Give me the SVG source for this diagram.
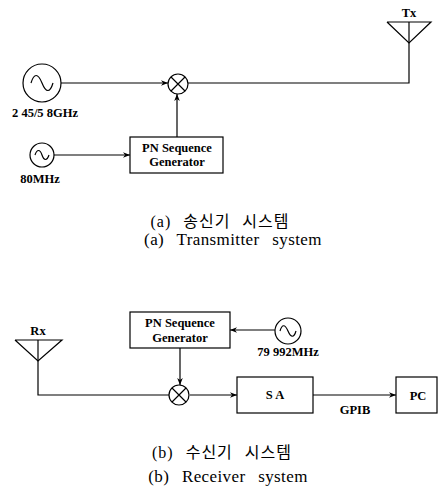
<svg xmlns="http://www.w3.org/2000/svg" width="438" height="491" viewBox="0 0 438 491">
<style>
.ln{fill:none;stroke:#000;stroke-width:1.2}
.bx{fill:#fff;stroke:#000;stroke-width:1.2}
.lb{font-family:"Liberation Serif",serif;font-weight:bold;font-size:12.5px;fill:#000}
.cap{font-family:"Liberation Serif","Noto Sans CJK KR",serif;font-size:17px;fill:#000;letter-spacing:0.4px;word-spacing:8px}
.ko{font-family:"Liberation Serif","Noto Sans CJK KR",serif;font-size:16px;fill:#000;letter-spacing:1px;word-spacing:7px}
</style>
<defs>
<marker id="ar" viewBox="0 0 10 10" refX="10" refY="5" markerWidth="7" markerHeight="7" orient="auto" markerUnits="userSpaceOnUse">
<path d="M0,1 L10,5 L0,9 L3,5 Z" fill="#000"/>
</marker>
</defs>
<rect width="438" height="491" fill="#fff"/>
<g id="connectors">
<line class="ln" x1="61" y1="83" x2="168" y2="83" marker-end="url(#ar)"/>
<polyline class="ln" points="188,83 409,83 409,22"/>
<line class="ln" x1="177" y1="137" x2="177" y2="94" marker-end="url(#ar)"/>
<line class="ln" x1="54" y1="155" x2="130" y2="155" marker-end="url(#ar)"/>
<polyline class="ln" points="38,340 38,395 169,395"/>
<line class="ln" x1="180" y1="348" x2="180" y2="385" marker-end="url(#ar)"/>
<line class="ln" x1="275" y1="330" x2="230" y2="330" marker-end="url(#ar)"/>
<line class="ln" x1="190" y1="395" x2="237" y2="395" marker-end="url(#ar)"/>
<line class="ln" x1="313" y1="395" x2="396" y2="395" marker-end="url(#ar)"/>
<text class="lb" x="355" y="414" text-anchor="middle">GPIB</text>
</g>
<g id="src1">
<circle class="bx" cx="42" cy="83" r="19"/>
<path class="ln" d="M31,83 C34,73 38,73 42,83 C46,93 50,93 53,83"/>
<text class="lb" x="45" y="117" text-anchor="middle">2 45/5 8GHz</text>
</g>
<g id="mixer1">
<circle class="bx" cx="178" cy="84" r="10"/>
<path class="ln" d="M171,77 L185,91 M185,77 L171,91"/>
</g>
<g id="tx">
<polyline class="ln" points="387,22 431,22 409,43 387,22"/>
<text class="lb" x="409" y="17" text-anchor="middle" font-size="13">Tx</text>
</g>
<g id="src2">
<circle class="bx" cx="42" cy="155" r="12"/>
<path class="ln" d="M35,155 C37,149 40,149 42,155 C44,161 47,161 49,155"/>
<text class="lb" x="40" y="183" text-anchor="middle">80MHz</text>
</g>
<g id="pn1">
<rect class="bx" x="130" y="137" width="93" height="36"/>
<text class="lb" x="177" y="152" text-anchor="middle">PN Sequence</text>
<text class="lb" x="177" y="166" text-anchor="middle">Generator</text>
</g>
<g id="capA">
<text class="ko" x="220" y="227" text-anchor="middle">(a) 송신기 시스템</text>
<text class="cap" x="233" y="245" text-anchor="middle">(a) Transmitter system</text>
</g>
<g id="rx">
<polyline class="ln" points="15,340 62,340 38,361 15,340"/>
<text class="lb" x="38" y="335" text-anchor="middle" font-size="13">Rx</text>
</g>
<g id="pn2">
<rect class="bx" x="130" y="312" width="100" height="36"/>
<text class="lb" x="180" y="327" text-anchor="middle">PN Sequence</text>
<text class="lb" x="180" y="342" text-anchor="middle">Generator</text>
</g>
<g id="src3">
<circle class="bx" cx="288" cy="331" r="13"/>
<path class="ln" d="M280,331 C282,324 285,324 288,331 C291,338 294,338 296,331"/>
<text class="lb" x="288" y="356" text-anchor="middle">79 992MHz</text>
</g>
<g id="mixer2">
<circle class="bx" cx="179" cy="395" r="10"/>
<path class="ln" d="M172,388 L186,402 M186,388 L172,402"/>
</g>
<g id="sa">
<rect class="bx" x="237" y="377" width="76" height="36"/>
<text class="lb" x="275" y="399" text-anchor="middle">S A</text>
</g>
<g id="pc">
<rect class="bx" x="396" y="377" width="41" height="36"/>
<text class="lb" x="418" y="400" text-anchor="middle" font-size="14">PC</text>
</g>
<g id="capB">
<text class="ko" x="222" y="458" text-anchor="middle">(b) 수신기 시스템</text>
<text class="cap" x="228" y="482" text-anchor="middle">(b) Receiver system</text>
</g>
</svg>
